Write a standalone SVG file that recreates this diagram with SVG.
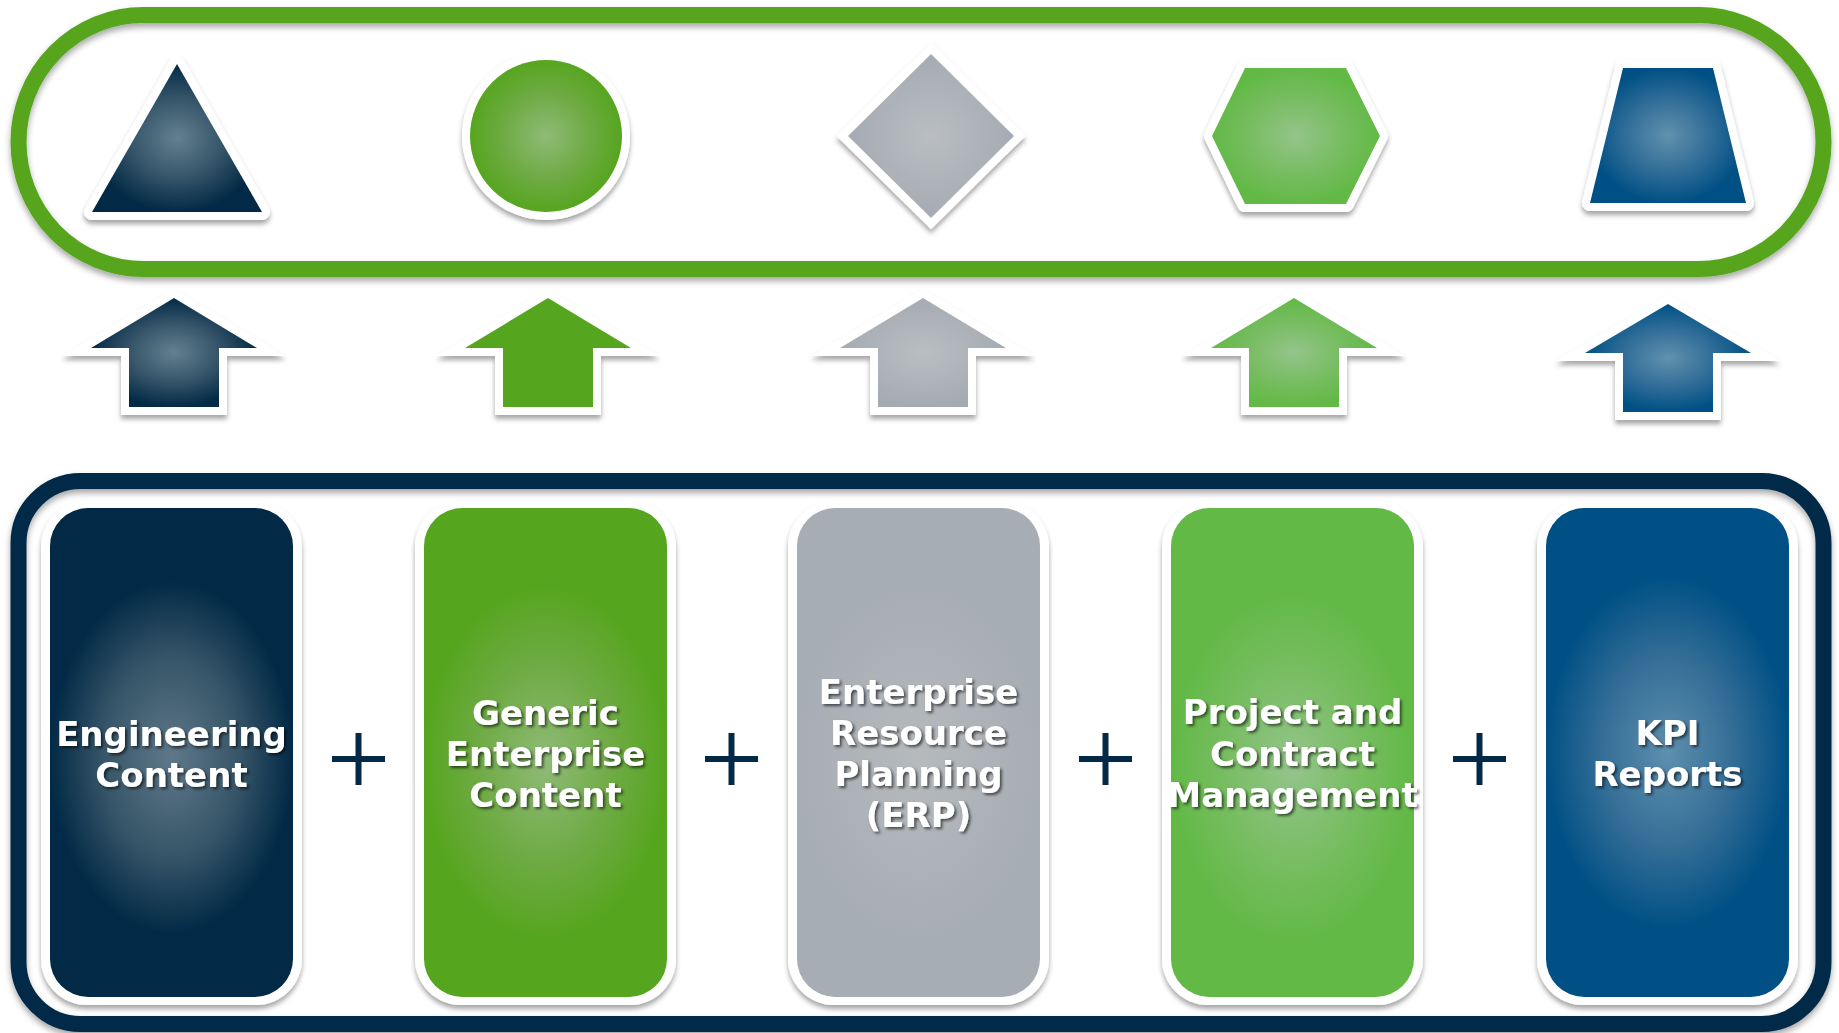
<svg xmlns="http://www.w3.org/2000/svg" width="1839" height="1033" viewBox="0 0 1839 1033">
<defs>
<filter id="sh" x="-20%" y="-20%" width="140%" height="140%"><feDropShadow dx="0" dy="4" stdDeviation="2.5" flood-color="#000" flood-opacity="0.35"/></filter>
<filter id="fsh" x="-5%" y="-5%" width="110%" height="115%"><feDropShadow dx="0" dy="4" stdDeviation="3" flood-color="#000" flood-opacity="0.35"/></filter>
<filter id="tsh" x="-10%" y="-20%" width="120%" height="150%"><feDropShadow dx="2" dy="2" stdDeviation="1.8" flood-color="#000" flood-opacity="0.6"/></filter>
<radialGradient id="gNavy"><stop offset="0" stop-color="#62808f"/><stop offset="0.5" stop-color="#3a586c"/><stop offset="1" stop-color="#022a46"/></radialGradient>
<radialGradient id="gGreen"><stop offset="0" stop-color="#8fbb77"/><stop offset="0.55" stop-color="#6fab45"/><stop offset="1" stop-color="#56a51f"/></radialGradient>
<radialGradient id="gGray"><stop offset="0" stop-color="#babec1"/><stop offset="1" stop-color="#a5abb3"/></radialGradient>
<radialGradient id="gLGreen"><stop offset="0" stop-color="#94c48b"/><stop offset="0.55" stop-color="#78bd62"/><stop offset="1" stop-color="#62b946"/></radialGradient>
<radialGradient id="gBlue"><stop offset="0" stop-color="#6191ad"/><stop offset="0.5" stop-color="#35709a"/><stop offset="1" stop-color="#005085"/></radialGradient>
<radialGradient id="cNavy" cy="0.51" gradientTransform="translate(0.5 0.51) scale(1 0.72) translate(-0.5 -0.51)"><stop offset="0" stop-color="#5e7889"/><stop offset="0.55" stop-color="#385669"/><stop offset="1" stop-color="#022a46"/></radialGradient>
<radialGradient id="cGreen" cy="0.52" gradientTransform="translate(0.5 0.52) scale(1 0.72) translate(-0.5 -0.52)"><stop offset="0" stop-color="#8fbb77"/><stop offset="0.55" stop-color="#6fab45"/><stop offset="1" stop-color="#56a51f"/></radialGradient>
<radialGradient id="cGray" cy="0.52" gradientTransform="translate(0.5 0.52) scale(1 0.72) translate(-0.5 -0.52)"><stop offset="0" stop-color="#b6babd"/><stop offset="1" stop-color="#a7adb5"/></radialGradient>
<radialGradient id="cLGreen" cy="0.53" gradientTransform="translate(0.5 0.53) scale(1 0.72) translate(-0.5 -0.53)"><stop offset="0" stop-color="#94c48b"/><stop offset="0.55" stop-color="#78bd62"/><stop offset="1" stop-color="#62b946"/></radialGradient>
<radialGradient id="cBlue" cy="0.5" gradientTransform="translate(0.5 0.5) scale(1 0.72) translate(-0.5 -0.5)"><stop offset="0" stop-color="#5e8fae"/><stop offset="0.55" stop-color="#336d96"/><stop offset="1" stop-color="#005085"/></radialGradient>
</defs>
<style>
.out{fill:#fff;stroke:#fff;stroke-width:16;stroke-linejoin:round;filter:url(#sh)}
.outm{fill:#fff;stroke:#fff;stroke-width:16;stroke-linejoin:miter;stroke-miterlimit:5;filter:url(#sh)}
.card{fill:#fff;filter:url(#sh)}
.lbl{font-family:"DejaVu Sans","Verdana",sans-serif;font-weight:bold;font-size:34px;fill:#fff;text-anchor:middle;filter:url(#tsh)}
.plus{stroke:#022a46;stroke-width:6;fill:none}
</style>
<rect width="1839" height="1033" fill="#fff"/>

<g id="top-frame">
<rect x="18.5" y="15" width="1805" height="254" rx="125" ry="127" fill="none" stroke="#56a51f" stroke-width="16" filter="url(#fsh)"/>
</g>

<g id="triangle">
<polygon class="out" points="177,64 262,212 92,212"/>
<polygon points="177,64 262,212 92,212" fill="url(#gNavy)"/>
</g>
<g id="circle">
<circle class="out" cx="546" cy="136" r="76"/>
<circle cx="546" cy="136" r="76" fill="url(#gGreen)"/>
</g>
<g id="diamond">
<polygon class="outm" points="931,54 1014,136 931,218 848,136"/>
<polygon points="931,54 1014,136 931,218 848,136" fill="url(#gGray)"/>
</g>
<g id="hexagon">
<polygon class="out" points="1245,68 1346,68 1380,136 1346,204 1245,204 1212,136"/>
<polygon points="1245,68 1346,68 1380,136 1346,204 1245,204 1212,136" fill="url(#gLGreen)"/>
</g>
<g id="trapezoid">
<polygon class="out" points="1623,68 1713,68 1746,203 1590,203"/>
<polygon points="1623,68 1713,68 1746,203 1590,203" fill="url(#gBlue)"/>
</g>

<g id="connectors">
<path class="outm" d="M174,298 L257,348 L219,348 L219,407 L129,407 L129,348 L91,348 Z"/>
<path d="M174,298 L257,348 L219,348 L219,407 L129,407 L129,348 L91,348 Z" fill="url(#gNavy)"/>
<path class="outm" d="M548,298 L631,348 L593,348 L593,407 L503,407 L503,348 L465,348 Z"/>
<path d="M548,298 L631,348 L593,348 L593,407 L503,407 L503,348 L465,348 Z" fill="#56a51f"/>
<path class="outm" d="M923,298 L1006,348 L968,348 L968,407 L878,407 L878,348 L840,348 Z"/>
<path d="M923,298 L1006,348 L968,348 L968,407 L878,407 L878,348 L840,348 Z" fill="url(#gGray)"/>
<path class="outm" d="M1294,298 L1377,348 L1339,348 L1339,407 L1249,407 L1249,348 L1211,348 Z"/>
<path d="M1294,298 L1377,348 L1339,348 L1339,407 L1249,407 L1249,348 L1211,348 Z" fill="url(#gLGreen)"/>
<path class="outm" d="M1668,304 L1751,353 L1713,353 L1713,412 L1623,412 L1623,353 L1585,353 Z"/>
<path d="M1668,304 L1751,353 L1713,353 L1713,412 L1623,412 L1623,353 L1585,353 Z" fill="url(#gBlue)"/>
</g>

<g id="bottom-frame">
<rect x="18.5" y="481" width="1805" height="543" rx="62" ry="62" fill="none" stroke="#022a46" stroke-width="16" filter="url(#fsh)"/>
</g>

<g id="engineering-content">
<rect class="card" x="41" y="501" width="261" height="504" rx="46"/>
<rect x="50" y="508" width="243" height="489" rx="38" fill="url(#cNavy)"/>
<text class="lbl" x="171.5" y="746">Engineering</text>
<text class="lbl" x="171.5" y="787">Content</text>
</g>
<g id="generic-enterprise-content">
<rect class="card" x="415" y="501" width="261" height="504" rx="46"/>
<rect x="424" y="508" width="243" height="489" rx="38" fill="url(#cGreen)"/>
<text class="lbl" x="545.5" y="725">Generic</text>
<text class="lbl" x="545.5" y="766">Enterprise</text>
<text class="lbl" x="545.5" y="807">Content</text>
</g>
<g id="erp">
<rect class="card" x="788" y="501" width="261" height="504" rx="46"/>
<rect x="797" y="508" width="243" height="489" rx="38" fill="url(#cGray)"/>
<text class="lbl" x="918.5" y="704">Enterprise</text>
<text class="lbl" x="918.5" y="745">Resource</text>
<text class="lbl" x="918.5" y="786">Planning</text>
<text class="lbl" x="918.5" y="827">(ERP)</text>
</g>
<g id="project-contract-management">
<rect class="card" x="1162" y="501" width="261" height="504" rx="46"/>
<rect x="1171" y="508" width="243" height="489" rx="38" fill="url(#cLGreen)"/>
<text class="lbl" x="1292.5" y="724">Project and</text>
<text class="lbl" x="1292.5" y="766">Contract</text>
<text class="lbl" x="1292.5" y="807">Management</text>
</g>
<g id="kpi-reports">
<rect class="card" x="1537" y="501" width="261" height="504" rx="46"/>
<rect x="1546" y="508" width="243" height="489" rx="38" fill="url(#cBlue)"/>
<text class="lbl" x="1667.5" y="745">KPI</text>
<text class="lbl" x="1667.5" y="786">Reports</text>
</g>

<g id="plus-signs">
<path class="plus" d="M332,759 H385 M358.5,733 V785"/>
<path class="plus" d="M705,759 H758 M731.5,733 V785"/>
<path class="plus" d="M1079,759 H1132 M1105.5,733 V785"/>
<path class="plus" d="M1453,759 H1506 M1479.5,733 V785"/>
</g>
</svg>
